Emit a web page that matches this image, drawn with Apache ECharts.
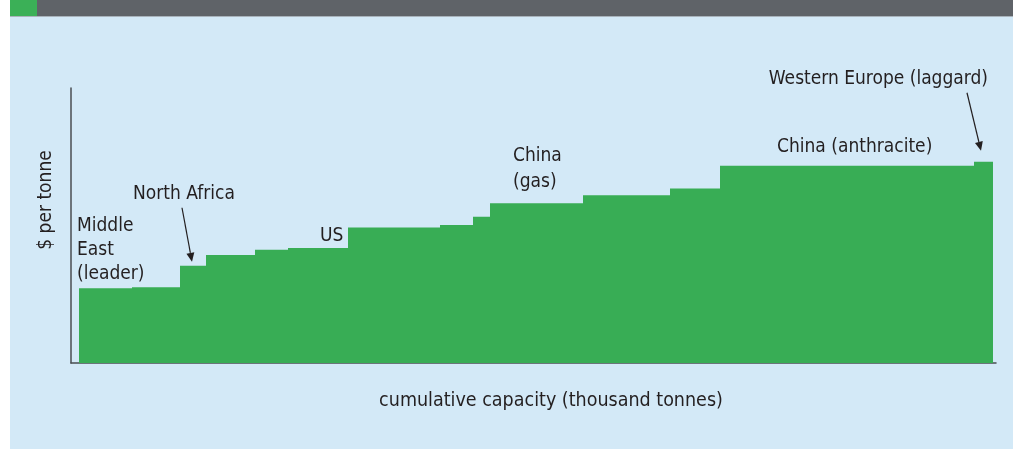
<!DOCTYPE html>
<html>
<head>
<meta charset="utf-8">
<script src="https://cdn.jsdelivr.net/npm/echarts@6/dist/echarts.min.js"></script>
<style>
  html, body { margin: 0; padding: 0; background: #ffffff; }
  #chart { width: 1013px; height: 449px; }
</style>
</head>
<body>
<div id="chart"></div>
<script>
// Capacity blocks, ordered from cheapest to most expensive producer
const capacity = [53, 48, 26, 49, 33, 60, 92, 33, 17, 93, 87, 50, 254, 19]; // thousand tonnes
const cost = [299, 303, 389, 432, 453, 460, 542, 552, 585, 639, 671, 698, 789, 805]; // $ per tonne

// Callouts: [label, block index]
const callouts = [
  ['Middle\nEast\n(leader)', 0],
  ['North Africa', 2],
  ['US', 6],
  ['China\n(gas)', 9],
  ['China (anthracite)', 12],
  ['Western Europe (laggard)', 13]
];

const FONT = '"Liberation Sans Narrow", "DejaVu Sans Condensed", sans-serif';
const TEXT = '#231f20';
const BAR = '#38ad55';

// Block edges along the cumulative-capacity axis
const blocks = [];
let run = 0;
capacity.forEach((w, i) => {
  blocks.push([run, run + w, cost[i]]);
  run += w;
});

const chart = echarts.init(document.getElementById('chart'));

chart.setOption({
  animation: false,
  backgroundColor: '#ffffff',
  grid: { left: 71, right: 17, top: 88, bottom: 86 },
  xAxis: {
    type: 'value', min: -8, max: 917,
    axisLine: { show: true, onZero: false, lineStyle: { color: '#4a4d52', width: 1.5 } },
    axisTick: { show: false }, axisLabel: { show: false }, splitLine: { show: false }
  },
  yAxis: {
    type: 'value', min: 0, max: 1100,
    axisLine: { show: true, onZero: false, lineStyle: { color: '#4a4d52', width: 1.5 } },
    axisTick: { show: false }, axisLabel: { show: false }, splitLine: { show: false }
  },
  series: [{
    type: 'custom',
    data: blocks,
    encode: { x: [0, 1], y: 2 },
    renderItem: function (params, api) {
      const p0 = api.coord([api.value(0), api.value(2)]);
      const p1 = api.coord([api.value(1), 0]);
      return {
        type: 'rect',
        shape: { x: p0[0], y: p0[1], width: p1[0] - p0[0], height: p1[1] - p0[1] },
        style: { fill: BAR }
      };
    }
  }]
});

// Position callouts relative to the blocks they describe
function px(x, y) { return chart.convertToPixel({ gridIndex: 0 }, [x, y]); }

const g = [
  { type: 'rect', shape: { x: 10, y: 0, width: 1003, height: 449 }, style: { fill: '#d3e9f7' }, z: -10 },
  { type: 'rect', shape: { x: 10, y: 0, width: 1003, height: 16 }, style: { fill: '#5f6368' }, z: -9 },
  { type: 'rect', shape: { x: 10, y: 16, width: 1003, height: 1 }, style: { fill: '#a9b3bb' }, z: -9 },
  { type: 'rect', shape: { x: 10, y: 0, width: 27, height: 16 }, style: { fill: '#3bb057' }, z: -8 },
  {
    type: 'text', x: 46, y: 200, rotation: Math.PI / 2,
    style: { text: '$ per tonne', font: '19px ' + FONT, fill: TEXT, align: 'center', verticalAlign: 'middle' }
  },
  {
    type: 'text', x: 551, y: 401,
    style: { text: 'cumulative capacity (thousand tonnes)', font: '19.5px ' + FONT, fill: TEXT, align: 'center', verticalAlign: 'middle' }
  }
];

function label(text, x, y, align, lh) {
  g.push({
    type: 'text', x: x, y: y,
    style: { text: text, font: '19px ' + FONT, fill: TEXT, align: align || 'left', verticalAlign: 'top', lineHeight: lh || 24 }
  });
}
function arrow(x1, y1, x2, y2) {
  const a = Math.atan2(y2 - y1, x2 - x1);
  const L = 9, W = 4;
  const bx = x2 - L * Math.cos(a), by = y2 - L * Math.sin(a);
  g.push({ type: 'line', shape: { x1: x1, y1: y1, x2: bx, y2: by }, style: { stroke: TEXT, lineWidth: 1.2 } });
  g.push({
    type: 'polygon',
    shape: { points: [[x2, y2], [bx + W * Math.sin(a), by - W * Math.cos(a)], [bx - W * Math.sin(a), by + W * Math.cos(a)]] },
    style: { fill: TEXT }
  });
}

const b = callouts.map(c => blocks[c[1]]);
// Middle East
let p = px(b[0][0], b[0][2]);
label(callouts[0][0], p[0] - 2, p[1] - 74);
// North Africa, arrow into the third block
p = px(b[1][0], b[1][2]);
label(callouts[1][0], p[0] - 47, p[1] - 84);
arrow(p[0] + 2, p[1] - 58, p[0] + 12, p[1] - 4);
// US
p = px(b[2][0], b[2][2]);
label(callouts[2][0], p[0] - 28, p[1] - 3);
// China (gas)
p = px(b[3][0], b[3][2]);
label(callouts[3][0], p[0] + 23, p[1] - 60, 'left', 26);
// China (anthracite)
p = px(b[4][0], b[4][2]);
label(callouts[4][0], p[0] + 57, p[1] - 31);
// Western Europe, arrow onto the last block
p = px(b[5][0], b[5][2]);
label(callouts[5][0], p[0] + 14, p[1] - 95, 'right');
arrow(p[0] - 7, p[1] - 69, p[0] + 7, p[1] - 11);

chart.setOption({ graphic: g });
</script>
</body>
</html>
